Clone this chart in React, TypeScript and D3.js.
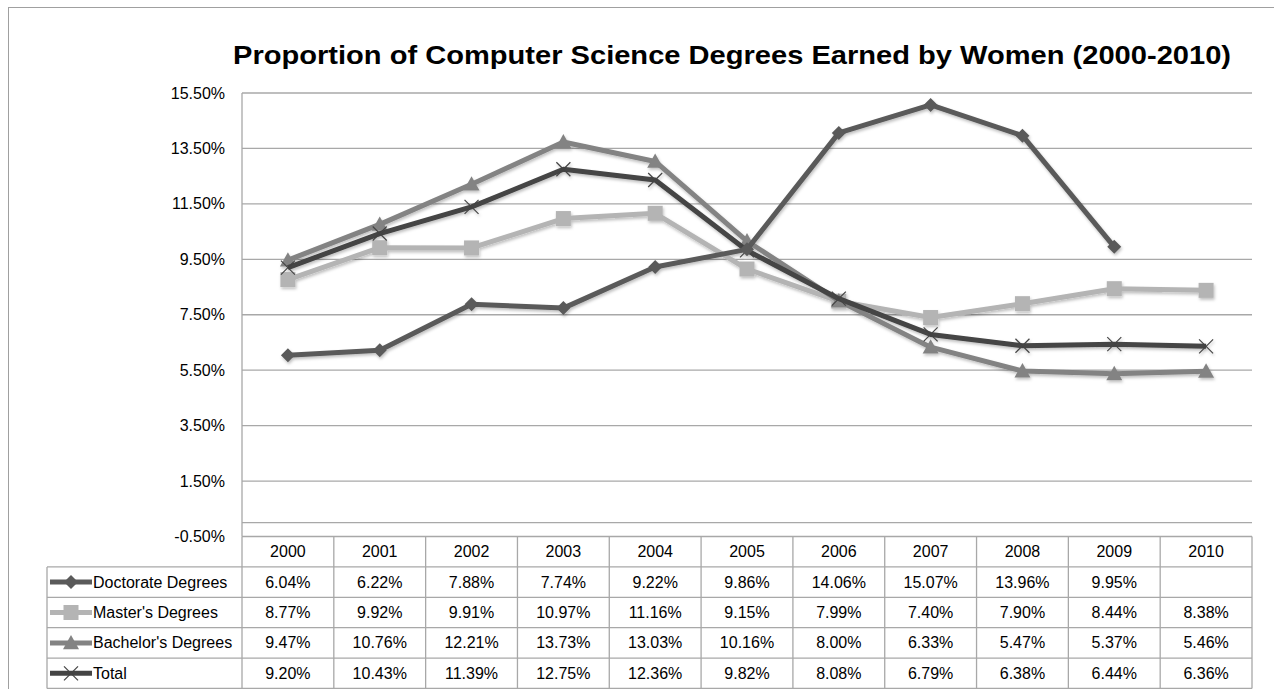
import React from 'react';
import * as d3 from 'd3';

// DATA
const years = ['2000', '2001', '2002', '2003', '2004', '2005', '2006', '2007', '2008', '2009', '2010'];
const doctorate = [6.04, 6.22, 7.88, 7.74, 9.22, 9.86, 14.06, 15.07, 13.96, 9.95, null];
const masters = [8.77, 9.92, 9.91, 10.97, 11.16, 9.15, 7.99, 7.4, 7.9, 8.44, 8.38];
const bachelors = [9.47, 10.76, 12.21, 13.73, 13.03, 10.16, 8.0, 6.33, 5.47, 5.37, 5.46];
const total = [9.2, 10.43, 11.39, 12.75, 12.36, 9.82, 8.08, 6.79, 6.38, 6.44, 6.36];
const yTicks = [-0.5, 1.5, 3.5, 5.5, 7.5, 9.5, 11.5, 13.5, 15.5];

const series = [
  { name: 'Doctorate Degrees', values: doctorate, color: '#5a5a5a', marker: 'diamond' },
  { name: "Master's Degrees", values: masters, color: '#b4b4b4', marker: 'square' },
  { name: "Bachelor's Degrees", values: bachelors, color: '#838383', marker: 'triangle' },
  { name: 'Total', values: total, color: '#444444', marker: 'x' },
];
// draw order (last on top)
const drawOrder = [1, 2, 3, 0];

const font = '"Liberation Sans", Arial, sans-serif';
const gridColor = '#a8a8a8';
const fs = 16;

function Marker({ type, x, y, color }: { type: string; x: number; y: number; color: string }) {
  if (type === 'diamond') {
    const s = 7;
    return <path d={`M${x},${y - s}L${x + s},${y}L${x},${y + s}L${x - s},${y}Z`} fill={color} />;
  }
  if (type === 'square') {
    const s = 7.5;
    return <rect x={x - s} y={y - s} width={s * 2} height={s * 2} fill={color} />;
  }
  if (type === 'triangle') {
    const s = 8;
    return <path d={`M${x},${y - s}L${x + s},${y + s * 0.8}L${x - s},${y + s * 0.8}Z`} fill={color} />;
  }
  const s = 7;
  return (
    <g stroke={color} strokeWidth={1.2}>
      <line x1={x - s} y1={y - s} x2={x + s} y2={y + s} />
      <line x1={x - s} y1={y + s} x2={x + s} y2={y - s} />
    </g>
  );
}

export default function App() {
  const width = 1274;
  const height = 689;
  const plotLeft = 242;
  const plotRight = 1252;
  const tableLeft = 47;

  const x = d3.scaleBand<string>().domain(years).range([plotLeft, plotRight]).padding(0);
  const y = d3.scaleLinear().domain([-0.5, 15.5]).range([536.5, 93]);
  const cx = (yr: string) => (x(yr) as number) + x.bandwidth() / 2;

  const line = d3
    .line<number | null>()
    .defined(d => d !== null)
    .x((_, i) => cx(years[i]))
    .y(d => y(d as number));

  const tableTop = y(-0.5);
  const rowH = 30.4;
  const rows = d3.range(5).map(i => tableTop + i * rowH);

  return (
    <svg
      width={width}
      height={height}
      style={{ position: 'absolute', left: 0, top: 0, background: '#fff' }}
      fontFamily={font}
    >
      <defs>
        <filter id="shadow" x="-5%" y="-5%" width="110%" height="110%">
          <feDropShadow dx="1" dy="2" stdDeviation="1.5" floodColor="#000" floodOpacity="0.25" />
        </filter>
      </defs>
      <rect x={8.5} y={7.5} width={1300} height={700} fill="#fff" stroke="#a0a0a0" strokeWidth={1} />

      <text
        x={732}
        y={64}
        textAnchor="middle"
        fontSize={26}
        fontWeight="bold"
        textLength={998}
        lengthAdjust="spacingAndGlyphs"
        fill="#000"
      >
        Proportion of Computer Science Degrees Earned by Women (2000-2010)
      </text>

      {/* gridlines + y labels */}
      {yTicks.map(t => (
        <g key={t}>
          {t !== -0.5 && (
            <line x1={plotLeft} x2={plotRight} y1={y(t)} y2={y(t)} stroke={gridColor} strokeWidth={1.3} />
          )}
          <text x={225} y={y(t) + 5.5} textAnchor="end" fontSize={fs} fill="#000">
            {t.toFixed(2) + '%'}
          </text>
        </g>
      ))}
      {/* horizontal axis at 0 */}
      <line x1={plotLeft} x2={plotRight} y1={y(0)} y2={y(0)} stroke={gridColor} strokeWidth={1.3} />
      <line x1={plotLeft} x2={plotLeft} y1={y(15.5)} y2={tableTop} stroke={gridColor} strokeWidth={1.3} />

      {/* series */}
      <g filter="url(#shadow)">
        {drawOrder.map(si => {
          const s = series[si];
          return (
            <g key={s.name}>
              <path d={line(s.values) || ''} fill="none" stroke={s.color} strokeWidth={5} strokeLinejoin="round" />
              {s.values.map((v, i) =>
                v === null ? null : <Marker key={i} type={s.marker} x={cx(years[i])} y={y(v)} color={s.color} />
              )}
            </g>
          );
        })}
      </g>

      {/* data table */}
      <g stroke={gridColor} strokeWidth={1.3} fill="none">
        <line x1={plotLeft} x2={plotRight} y1={rows[0]} y2={rows[0]} />
        {rows.slice(1).map((r, i) => (
          <line key={i} x1={tableLeft} x2={plotRight} y1={r} y2={r} />
        ))}
        <line x1={tableLeft} x2={plotRight} y1={rows[4] + rowH} y2={rows[4] + rowH} />
        <line x1={tableLeft} x2={tableLeft} y1={rows[1]} y2={rows[4] + rowH} />
        {years.map(yr => (
          <line key={yr} x1={x(yr)} x2={x(yr)} y1={rows[0]} y2={rows[4] + rowH} />
        ))}
        <line x1={plotRight} x2={plotRight} y1={rows[0]} y2={rows[4] + rowH} />
      </g>
      {years.map(yr => (
        <text key={yr} x={cx(yr)} y={rows[0] + rowH / 2 + 5.5} textAnchor="middle" fontSize={fs} fill="#000">
          {yr}
        </text>
      ))}
      {series.map((s, si) => {
        const rowMid = rows[si + 1] + rowH / 2;
        return (
          <g key={s.name}>
            <line x1={50} x2={92} y1={rowMid} y2={rowMid} stroke={s.color} strokeWidth={5} />
            <Marker type={s.marker} x={71} y={rowMid} color={s.color} />
            <text x={93} y={rowMid + 5.5} fontSize={fs} fill="#000">
              {s.name}
            </text>
            {s.values.map((v, i) =>
              v === null ? null : (
                <text key={i} x={cx(years[i])} y={rowMid + 5.5} textAnchor="middle" fontSize={fs} fill="#000">
                  {v.toFixed(2) + '%'}
                </text>
              )
            )}
          </g>
        );
      })}
    </svg>
  );
}
